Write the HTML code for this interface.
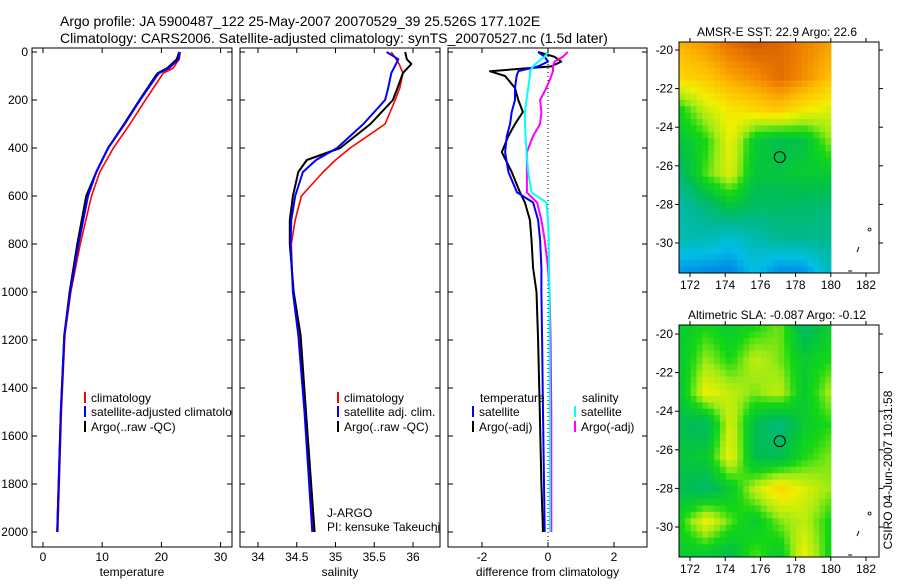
<!DOCTYPE html>
<html><head><meta charset="utf-8">
<style>
body{margin:0;background:#fff;}
svg{font-family:"Liberation Sans",sans-serif;}
</style></head>
<body>
<svg id="fig" width="900" height="580" xmlns="http://www.w3.org/2000/svg">
<rect width="900" height="580" fill="#fff"/>
<text x="60" y="26" font-size="14">Argo profile: JA 5900487_122 25-May-2007 20070529_39 25.526S 177.102E</text>
<text x="60" y="43" font-size="14">Climatology: CARS2006. Satellite-adjusted climatology: synTS_20070527.nc (1.5d later)</text>
<g id="plots"></g>
<text x="892" y="470" font-size="12" transform="rotate(-90 892 470)" text-anchor="middle">CSIRO 04-Jun-2007 10:31:58</text>
</svg>
<script>
// ---- data ----
const depthT = [0, 30, 67, 88, 100, 200, 300, 400, 500, 600, 800, 1000, 1180, 1500, 2000];
const tempClim = [23.2, 23.0, 22.0, 20.3, 20.0, 17.3, 14.7, 11.9, 9.6, 8.2, 6.3, 4.7, 3.7, 3.1, 2.5];
const tempSat  = [23.0, 22.9, 21.3, 19.6, 19.2, 16.4, 13.8, 11.0, 9.0, 7.6, 6.0, 4.6, 3.6, 3.0, 2.4];
const tempArgo = [23.0, 22.6, 21.0, 19.4, 19.0, 16.3, 13.7, 11.0, 9.0, 7.3, 5.8, 4.5, 3.6, 3.0, 2.4];
const depthS = [0, 30, 50, 88, 150, 200, 300, 400, 450, 500, 600, 700, 800, 1000, 1180, 1500, 2000];
const salClim = [35.72, 35.78, 35.82, 35.87, 35.83, 35.77, 35.64, 35.19, 35.0, 34.84, 34.56, 34.48, 34.43, 34.45, 34.53, 34.6, 34.72];
const salSat  = [35.66, 35.81, 35.78, 35.72, 35.68, 35.64, 35.36, 35.02, 34.75, 34.58, 34.48, 34.43, 34.42, 34.45, 34.52, 34.6, 34.7];
const salArgo = [35.9, 35.92, 35.98, 35.87, 35.8, 35.74, 35.45, 35.06, 34.63, 34.52, 34.45, 34.41, 34.41, 34.46, 34.55, 34.62, 34.73];
const depthD = [0, 20, 40, 60, 80, 100, 150, 200, 250, 300, 350, 417, 500, 585, 627, 700, 783, 900, 1000, 1200, 1500, 1800, 2000];
const dTempSat  = [-0.3, -0.1, 0.0, -0.3, -0.9, -0.95, -1.0, -1.0, -1.1, -1.15, -1.25, -1.3, -1.2, -0.94, -0.45, -0.3, -0.24, -0.2, -0.2, -0.18, -0.15, -0.12, -0.1];
const dTempArgo = [-0.3, 0.2, 0.4, 0.1, -1.76, -1.3, -1.0, -0.9, -0.76, -1.0, -1.2, -1.4, -1.1, -0.85, -0.7, -0.55, -0.5, -0.45, -0.35, -0.3, -0.25, -0.2, -0.15];
const dSalSat   = [0.0, -0.1, -0.3, -0.45, -0.55, -0.55, -0.6, -0.65, -0.7, -0.7, -0.68, -0.65, -0.6, -0.5, -0.05, 0.0, 0.02, 0.03, 0.05, 0.05, 0.06, 0.06, 0.06];
const dSalArgo  = [0.6, 0.45, 0.2, 0.15, 0.15, 0.1, -0.05, -0.24, -0.2, -0.24, -0.45, -0.64, -0.64, -0.64, -0.33, -0.2, -0.1, 0.0, 0.05, 0.08, 0.1, 0.1, 0.1];
const depthTicks = [0, 200, 400, 600, 800, 1000, 1200, 1400, 1600, 1800, 2000];
const tempTicks = [0, 10, 20, 30];
const salTicks = [34, 34.5, 35, 35.5, 36];
const diffTicks = [-2, 0, 2];
const latTicks = [-20, -22, -24, -26, -28, -30];
const lonTicks = [172, 174, 176, 178, 180, 182];
const sstGrid = [
 [0.82,0.86,0.93,0.97,0.95,0.9,0.85],
 [0.75,0.78,0.84,0.88,0.94,0.88,0.8],
 [0.55,0.66,0.72,0.75,0.78,0.72,0.68],
 [0.48,0.55,0.7,0.5,0.45,0.47,0.6],
 [0.42,0.58,0.68,0.48,0.48,0.5,0.5],
 [0.32,0.4,0.48,0.42,0.42,0.42,0.4],
 [0.3,0.3,0.25,0.3,0.36,0.36,0.36],
 [0.12,0.1,0.08,0.22,0.1,0.12,0.28]];
const slaGrid = [
 [0.5,0.55,0.5,0.55,0.6,0.42,0.5],
 [0.5,0.62,0.55,0.65,0.6,0.5,0.55],
 [0.5,0.7,0.65,0.6,0.65,0.5,0.62],
 [0.45,0.42,0.68,0.45,0.38,0.5,0.55],
 [0.48,0.5,0.7,0.45,0.45,0.55,0.6],
 [0.45,0.42,0.5,0.65,0.75,0.68,0.62],
 [0.55,0.7,0.58,0.5,0.6,0.65,0.55],
 [0.5,0.5,0.45,0.58,0.5,0.7,0.55]];
const floatLon = 177.1, floatLat = -25.55;

const NS = "http://www.w3.org/2000/svg";
const svgRoot = document.getElementById('fig');
const root = document.getElementById('plots');
function mk(tag, attrs, parent) {
  const e = document.createElementNS(NS, tag);
  for (const k in attrs) e.setAttribute(k, attrs[k]);
  (parent || root).appendChild(e);
  return e;
}
const defs = mk('defs', {}, svgRoot);
const yTop = 52, pxPerM = 0.24;
function yD(d) { return yTop + d * pxPerM; }
const panelTop = 48, panelBot = 547;

function panel(name, x0, x1, xf, ticks, xlabel, showDepthLabels) {
  const g = mk('g', {});
  
  
  const cp = mk('clipPath', {id: 'clip-' + name}, defs);
  mk('rect', {x: x0, y: panelTop, width: x1 - x0, height: panelBot - panelTop}, cp);
  const inner = mk('g', {'clip-path': 'url(#clip-' + name + ')'}, g);
  const fr = mk('rect', {x: x0, y: panelTop, width: x1 - x0, height: panelBot - panelTop, fill: 'none', stroke: '#000', 'stroke-width': 1}, g);
  
  
  depthTicks.forEach(d => {
    mk('line', {x1: x0, x2: x0 + 5, y1: yD(d), y2: yD(d), stroke: '#000'}, g);
    mk('line', {x1: x1, x2: x1 - 5, y1: yD(d), y2: yD(d), stroke: '#000'}, g);
    if (showDepthLabels) {
      const t = mk('text', {x: x0 - 4, y: yD(d) + 4, 'font-size': 12, 'text-anchor': 'end'}, g);
      t.textContent = d;
      
      
    }
  });
  ticks.forEach(v => {
    const x = xf(v);
    mk('line', {x1: x, x2: x, y1: panelTop, y2: panelTop + 5, stroke: '#000'}, g);
    mk('line', {x1: x, x2: x, y1: panelBot, y2: panelBot - 5, stroke: '#000'}, g);
    const t = mk('text', {x: x, y: 561, 'font-size': 12, 'text-anchor': 'middle'}, g);
    t.textContent = v;
    
    
  });
  const xl = mk('text', {x: (x0 + x1) / 2, y: 576, 'font-size': 12, 'text-anchor': 'middle'}, g);
  xl.textContent = xlabel;
  
  
  return inner;
}
function series(g, name, depths, vals, xf, color, w) {
  const pts = depths.map((d, i) => xf(vals[i]).toFixed(1) + ',' + yD(d).toFixed(1)).join(' ');
  const p = mk('polyline', {points: pts, fill: 'none', stroke: color, 'stroke-width': w, 'stroke-linejoin': 'round'}, g);
  
  
}
function legend(g, x, y, color, label, name) {
  mk('line', {x1: x, x2: x, y1: y - 10, y2: y + 1, stroke: color, 'stroke-width': 2}, g);
  const t = mk('text', {x: x + 6, y: y, 'font-size': 12}, g);
  t.textContent = label;
  
  
}

const xT = v => 43 + v * 5.92;
const g1 = panel('temperature-panel', 32, 232, xT, tempTicks, 'temperature', true);
series(g1, 'temp-climatology-line', depthT, tempClim, xT, '#f00', 1.6);
series(g1, 'temp-argo-line', depthT, tempArgo, xT, '#000', 2);
series(g1, 'temp-satellite-line', depthT, tempSat, xT, '#00f', 2);
legend(g1, 85, 402, '#f00', 'climatology', 'legend-climatology');
legend(g1, 85, 416, '#00f', 'satellite-adjusted climatology', 'legend-satellite');
legend(g1, 85, 431, '#000', 'Argo(..raw -QC)', 'legend-argo');

const xS = v => 258 + (v - 34) * 77.5;
const g2 = panel('salinity-panel', 240, 440, xS, salTicks, 'salinity', false);
series(g2, 'sal-climatology-line', depthS, salClim, xS, '#f00', 1.6);
series(g2, 'sal-argo-line', depthS, salArgo, xS, '#000', 2);
series(g2, 'sal-satellite-line', depthS, salSat, xS, '#00f', 2);
legend(g2, 338, 402, '#f00', 'climatology', 'legend-climatology');
legend(g2, 338, 416, '#00f', 'satellite adj. clim.', 'legend-satellite');
legend(g2, 338, 431, '#000', 'Argo(..raw -QC)', 'legend-argo');
const j1 = mk('text', {x: 327, y: 517, 'font-size': 12}, g2); j1.textContent = 'J-ARGO';


const j2 = mk('text', {x: 327, y: 531, 'font-size': 12}, g2); j2.textContent = 'PI: kensuke Takeuchi';



const xDf = v => 548 + v * 33;
const g3 = panel('difference-panel', 448, 647, xDf, diffTicks, 'difference from climatology', false);
const zl = mk('line', {x1: xDf(0), x2: xDf(0), y1: panelTop, y2: panelBot, stroke: '#000', 'stroke-dasharray': '1,3'}, g3);


series(g3, 'diff-temp-argo-line', depthD, dTempArgo, xDf, '#000', 2);
series(g3, 'diff-temp-satellite-line', depthD, dTempSat, xDf, '#00f', 2);
series(g3, 'diff-sal-argo-line', depthD, dSalArgo, xDf, '#f0f', 2);
series(g3, 'diff-sal-satellite-line', depthD, dSalSat, xDf, '#0ff', 2);
const lt = mk('text', {x: 480, y: 402, 'font-size': 12}, g3); lt.textContent = 'temperature';


const ls = mk('text', {x: 582, y: 402, 'font-size': 12}, g3); ls.textContent = 'salinity';


legend(g3, 473, 416, '#00f', 'satellite', 'legend-temp-satellite');
legend(g3, 473, 431, '#000', 'Argo(-adj)', 'legend-temp-argo');
legend(g3, 575, 416, '#0ff', 'satellite', 'legend-sal-satellite');
legend(g3, 575, 431, '#f0f', 'Argo(-adj)', 'legend-sal-argo');

const stops = [[0,[0,100,230]],[0.2,[0,190,230]],[0.35,[0,185,150]],[0.45,[0,190,80]],[0.55,[20,215,20]],[0.62,[160,235,20]],[0.7,[240,240,0]],[0.8,[255,190,0]],[0.9,[240,130,0]],[1,[200,80,0]]];
function cmap(v) {
  v = Math.max(0, Math.min(1, v));
  for (let i = 1; i < stops.length; i++) {
    if (v <= stops[i][0]) {
      const a = stops[i-1], b = stops[i], t = (v - a[0]) / (b[0] - a[0]);
      const c = a[1].map((x, k) => Math.round(x + (b[1][k] - x) * t));
      return 'rgb(' + c.join(',') + ')';
    }
  }
  return 'rgb(200,80,0)';
}
function sample(grid, fx, fy) {
  const gx = fx * (grid[0].length - 1), gy = fy * (grid.length - 1);
  const i0 = Math.min(Math.floor(gx), grid[0].length - 2), j0 = Math.min(Math.floor(gy), grid.length - 2);
  const tx = gx - i0, ty = gy - j0;
  const a = grid[j0][i0], b = grid[j0][i0+1], c = grid[j0+1][i0], d = grid[j0+1][i0+1];
  return (a*(1-tx)+b*tx)*(1-ty) + (c*(1-tx)+d*tx)*ty;
}
function map(name, top, bot, lat20y, title, grid) {
  const g = mk('g', {});
  
  
  const left = 679, right = 879, colorRight = 831;
  const xL = lon => 690 + (lon - 172) * 17.6;
  const yL = lat => lat20y + (-20 - lat) * 19.3;
  const cw = (colorRight - left) / 26, ch = (bot - top) / 36;
  for (let j = 0; j < 36; j++) for (let i = 0; i < 26; i++) {
    mk('rect', {x: (left + i * cw).toFixed(2), y: (top + j * ch).toFixed(2), width: (cw + 0.4).toFixed(2), height: (ch + 0.4).toFixed(2), fill: cmap(sample(grid, i / 25, j / 35))}, g);
  }
  const fr = mk('rect', {x: left, y: top, width: right - left, height: bot - top, fill: 'none', stroke: '#000'}, g);
  
  
  latTicks.forEach(l => {
    mk('line', {x1: left - 4, x2: left, y1: yL(l), y2: yL(l), stroke: '#000'}, g);
    mk('line', {x1: right, x2: right + 4, y1: yL(l), y2: yL(l), stroke: '#000'}, g);
    const t = mk('text', {x: left - 6, y: yL(l) + 4, 'font-size': 12, 'text-anchor': 'end'}, g);
    t.textContent = l;
    
    
  });
  lonTicks.forEach(l => {
    mk('line', {x1: xL(l), x2: xL(l), y1: top - 4, y2: top, stroke: '#000'}, g);
    mk('line', {x1: xL(l), x2: xL(l), y1: bot, y2: bot + 4, stroke: '#000'}, g);
    const t = mk('text', {x: xL(l), y: bot + 16, 'font-size': 12, 'text-anchor': 'middle'}, g);
    t.textContent = l;
    
    
  });
  const tt = mk('text', {x: (left + right) / 2 - 2, y: top - 6, 'font-size': 12, 'text-anchor': 'middle'}, g);
  tt.textContent = title;
  
  
  const c = mk('circle', {cx: xL(floatLon), cy: yL(floatLat), r: 5.5, fill: 'none', stroke: '#000'}, g);
  
  
  mk('circle', {cx: xL(182.2), cy: yL(-29.3), r: 1.5, fill: 'none', stroke: '#000', 'stroke-width': 0.8}, g);
  mk('path', {d: 'M' + xL(181.6) + ',' + yL(-30.2) + ' l-1,3 l-1,2', fill: 'none', stroke: '#000'}, g);
  mk('path', {d: 'M' + (xL(181.1)-2) + ',' + yL(-31.45) + ' h4', stroke: '#000'}, g);
}
map('sst-map', 42, 273, 50, 'AMSR-E SST: 22.9 Argo: 22.6', sstGrid);
map('sla-map', 325, 557, 334, 'Altimetric SLA: -0.087 Argo: -0.12', slaGrid);
</script>
</body></html>
